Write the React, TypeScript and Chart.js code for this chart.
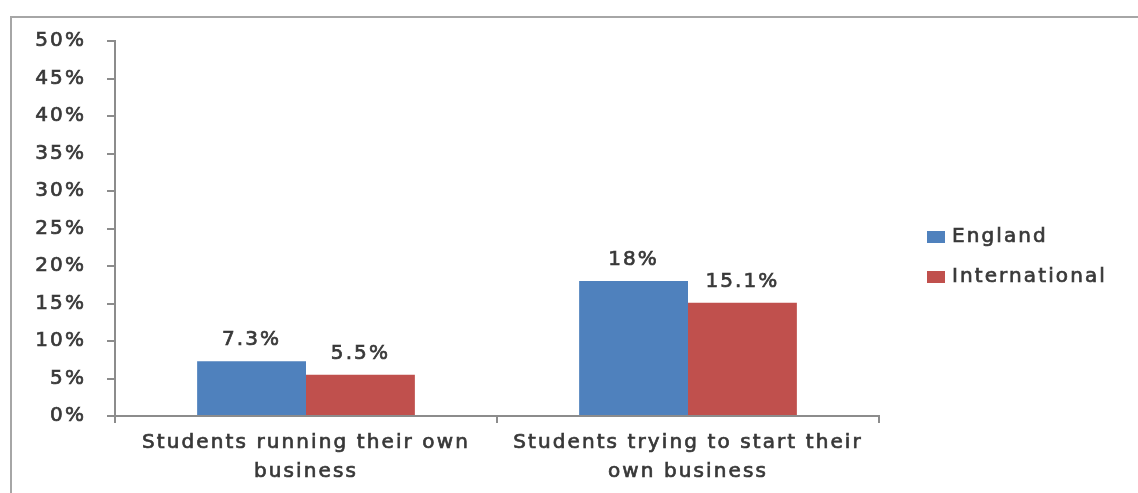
import React, { useEffect, useRef } from "react";
import { Chart, registerables } from "chart.js";

Chart.register(...registerables);

const categories: string[][] = [
  ["Students running their own", "business"],
  ["Students trying to start their", "own business"],
];
const seriesNames = ["England", "International"];
const englandValues = [7.3, 18];
const internationalValues = [5.5, 15.1];
const yMax = 50;
const yStep = 5;

const BLUE = "#4F81BD";
const RED = "#C0504D";
const TEXT = "#383838";
const AXIS = "#8c8c8c";
const FONT = "'DejaVu Sans', sans-serif";
const SIZE = 20;
const SPACING = "2.1px";
const STROKE = 0.7;

const spacingPlugin = {
  id: "spacing",
  beforeUpdate(chart: any) {
    chart.ctx.letterSpacing = SPACING;
  },
  beforeDraw(chart: any) {
    chart.ctx.letterSpacing = SPACING;
  },
};

function drawText(ctx: any, s: string, x: number, y: number) {
  ctx.lineWidth = STROKE;
  ctx.strokeStyle = TEXT;
  ctx.fillStyle = TEXT;
  ctx.strokeText(s, x, y);
  ctx.fillText(s, x, y);
}

const valueLabels = {
  id: "valueLabels",
  afterDatasetsDraw(chart: any) {
    const ctx = chart.ctx;
    ctx.save();
    ctx.letterSpacing = SPACING;
    ctx.font = `${SIZE}px ${FONT}`;
    ctx.textAlign = "center";
    ctx.textBaseline = "middle";
    chart.data.datasets.forEach((ds: any, i: number) => {
      const meta = chart.getDatasetMeta(i);
      meta.data.forEach((bar: any, j: number) => {
        drawText(ctx, String(ds.data[j]) + "%", bar.x, bar.y - 21);
      });
    });
    ctx.restore();
  },
};

const sideLegend = {
  id: "sideLegend",
  afterDraw(chart: any) {
    const ctx = chart.ctx;
    ctx.save();
    ctx.letterSpacing = SPACING;
    ctx.font = `${SIZE}px ${FONT}`;
    ctx.textAlign = "left";
    ctx.textBaseline = "middle";
    chart.data.datasets.forEach((ds: any, i: number) => {
      const cy = 237 + i * 40;
      ctx.fillStyle = ds.backgroundColor;
      ctx.fillRect(927, cy - 6, 18, 12);
      drawText(ctx, ds.label, 952, cy);
    });
    ctx.restore();
  },
};

export default function App() {
  const ref = useRef<HTMLCanvasElement>(null);

  useEffect(() => {
    if (!ref.current) return;
    const chart = new Chart(ref.current, {
      type: "bar",
      data: {
        labels: categories,
        datasets: [
          {
            label: seriesNames[0],
            data: englandValues,
            backgroundColor: BLUE,
            categoryPercentage: 0.57,
            barPercentage: 1.0,
          },
          {
            label: seriesNames[1],
            data: internationalValues,
            backgroundColor: RED,
            categoryPercentage: 0.57,
            barPercentage: 1.0,
          },
        ],
      },
      options: {
        animation: false,
        responsive: false,
        devicePixelRatio: 1,
        layout: { padding: { top: 41, right: 259, bottom: 0, left: 0 } },
        plugins: {
          legend: { display: false },
          tooltip: { enabled: false },
        },
        scales: {
          x: {
            grid: {
              drawOnChartArea: false,
              drawTicks: true,
              tickLength: 7,
              color: AXIS,
              lineWidth: 2,
              offset: true,
            },
            border: { display: true, color: AXIS, width: 2 },
            ticks: {
              color: TEXT,
              textStrokeColor: TEXT,
              textStrokeWidth: STROKE,
              font: { family: FONT, size: SIZE, lineHeight: 1.45 },
              maxRotation: 0,
              minRotation: 0,
              autoSkip: false,
              padding: 5,
            },
            afterFit(scale: any) {
              scale.height = 77;
            },
          },
          y: {
            min: 0,
            max: yMax,
            grid: {
              drawOnChartArea: false,
              drawTicks: true,
              tickLength: 8,
              color: AXIS,
              lineWidth: 2,
            },
            border: { display: true, color: AXIS, width: 2 },
            ticks: {
              stepSize: yStep,
              color: TEXT,
              textStrokeColor: TEXT,
              textStrokeWidth: STROKE,
              font: { family: FONT, size: SIZE },
              padding: 21,
              callback: (v: any) => v + "%",
            },
            afterFit(scale: any) {
              scale.width = 115;
            },
          },
        },
      },
      plugins: [spacingPlugin, valueLabels, sideLegend],
    });
    return () => chart.destroy();
  }, []);

  return (
    <div
      style={{
        position: "fixed",
        left: 0,
        top: 0,
        width: 1138,
        height: 493,
        overflow: "hidden",
        background: "#fff",
      }}
    >
      <canvas
        ref={ref}
        width={1138}
        height={493}
        style={{ position: "absolute", left: 0, top: 0, width: 1138, height: 493 }}
      />
      <div
        style={{
          position: "absolute",
          left: 10,
          top: 16,
          width: 1300,
          height: 700,
          border: "2px solid #a6a6a6",
          pointerEvents: "none",
        }}
      />
    </div>
  );
}
